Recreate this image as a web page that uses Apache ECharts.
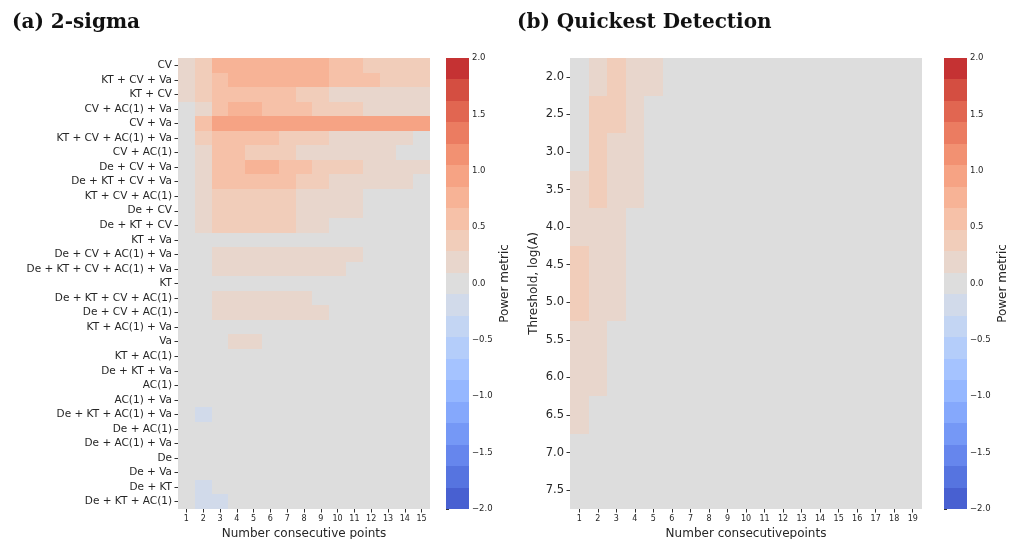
<!DOCTYPE html>
<html>
<head>
<meta charset="utf-8">
<script src="https://cdn.jsdelivr.net/npm/echarts@6/dist/echarts.min.js"></script>
<style>html,body{margin:0;padding:0;background:#fff}#main{width:1010px;height:539px}</style>
</head>
<body>
<div id="main"></div>
<script>
// (a) 2-sigma : rows = indicator combos, cols = number of consecutive points
var leftRows = ['CV', 'KT + CV + Va', 'KT + CV', 'CV + AC(1) + Va', 'CV + Va',
    'KT + CV + AC(1) + Va', 'CV + AC(1)', 'De + CV + Va', 'De + KT + CV + Va',
    'KT + CV + AC(1)', 'De + CV', 'De + KT + CV', 'KT + Va', 'De + CV + AC(1) + Va',
    'De + KT + CV + AC(1) + Va', 'KT', 'De + KT + CV + AC(1)', 'De + CV + AC(1)',
    'KT + AC(1) + Va', 'Va', 'KT + AC(1)', 'De + KT + Va', 'AC(1)', 'AC(1) + Va',
    'De + KT + AC(1) + Va', 'De + AC(1)', 'De + AC(1) + Va', 'De', 'De + Va',
    'De + KT', 'De + KT + AC(1)'];
var leftCols = ['1','2','3','4','5','6','7','8','9','10','11','12','13','14','15'];
var leftValues = [
    [0.2, 0.4, 0.8, 0.8, 0.8, 0.8, 0.8, 0.8, 0.8, 0.6, 0.6, 0.4, 0.4, 0.4, 0.4],
    [0.2, 0.4, 0.6, 0.8, 0.8, 0.8, 0.8, 0.8, 0.8, 0.6, 0.6, 0.6, 0.4, 0.4, 0.4],
    [0.2, 0.4, 0.6, 0.6, 0.6, 0.6, 0.6, 0.4, 0.4, 0.2, 0.2, 0.2, 0.2, 0.2, 0.2],
    [0, 0.2, 0.6, 0.8, 0.8, 0.6, 0.6, 0.6, 0.4, 0.4, 0.4, 0.2, 0.2, 0.2, 0.2],
    [0, 0.6, 0.95, 0.95, 0.95, 0.95, 0.95, 0.95, 0.95, 0.95, 0.95, 0.95, 0.95, 0.95, 0.95],
    [0, 0.4, 0.6, 0.6, 0.6, 0.6, 0.4, 0.4, 0.4, 0.2, 0.2, 0.2, 0.2, 0.2, 0],
    [0, 0.2, 0.6, 0.6, 0.4, 0.4, 0.4, 0.2, 0.2, 0.2, 0.2, 0.2, 0.2, 0, 0],
    [0, 0.2, 0.6, 0.6, 0.8, 0.8, 0.6, 0.6, 0.4, 0.4, 0.4, 0.2, 0.2, 0.2, 0.2],
    [0, 0.2, 0.6, 0.6, 0.6, 0.6, 0.6, 0.4, 0.4, 0.2, 0.2, 0.2, 0.2, 0.2, 0],
    [0, 0.2, 0.4, 0.4, 0.4, 0.4, 0.4, 0.2, 0.2, 0.2, 0.2, 0, 0, 0, 0],
    [0, 0.2, 0.4, 0.4, 0.4, 0.4, 0.4, 0.2, 0.2, 0.2, 0.2, 0, 0, 0, 0],
    [0, 0.2, 0.4, 0.4, 0.4, 0.4, 0.4, 0.2, 0.2, 0, 0, 0, 0, 0, 0],
    [0, 0, 0, 0, 0, 0, 0, 0, 0, 0, 0, 0, 0, 0, 0],
    [0, 0, 0.2, 0.2, 0.2, 0.2, 0.2, 0.2, 0.2, 0.2, 0.2, 0, 0, 0, 0],
    [0, 0, 0.2, 0.2, 0.2, 0.2, 0.2, 0.2, 0.2, 0.2, 0, 0, 0, 0, 0],
    [0, 0, 0, 0, 0, 0, 0, 0, 0, 0, 0, 0, 0, 0, 0],
    [0, 0, 0.2, 0.2, 0.2, 0.2, 0.2, 0.2, 0, 0, 0, 0, 0, 0, 0],
    [0, 0, 0.2, 0.2, 0.2, 0.2, 0.2, 0.2, 0.2, 0, 0, 0, 0, 0, 0],
    [0, 0, 0, 0, 0, 0, 0, 0, 0, 0, 0, 0, 0, 0, 0],
    [0, 0, 0, 0.2, 0.2, 0, 0, 0, 0, 0, 0, 0, 0, 0, 0],
    [0, 0, 0, 0, 0, 0, 0, 0, 0, 0, 0, 0, 0, 0, 0],
    [0, 0, 0, 0, 0, 0, 0, 0, 0, 0, 0, 0, 0, 0, 0],
    [0, 0, 0, 0, 0, 0, 0, 0, 0, 0, 0, 0, 0, 0, 0],
    [0, 0, 0, 0, 0, 0, 0, 0, 0, 0, 0, 0, 0, 0, 0],
    [0, -0.2, 0, 0, 0, 0, 0, 0, 0, 0, 0, 0, 0, 0, 0],
    [0, 0, 0, 0, 0, 0, 0, 0, 0, 0, 0, 0, 0, 0, 0],
    [0, 0, 0, 0, 0, 0, 0, 0, 0, 0, 0, 0, 0, 0, 0],
    [0, 0, 0, 0, 0, 0, 0, 0, 0, 0, 0, 0, 0, 0, 0],
    [0, 0, 0, 0, 0, 0, 0, 0, 0, 0, 0, 0, 0, 0, 0],
    [0, -0.2, 0, 0, 0, 0, 0, 0, 0, 0, 0, 0, 0, 0, 0],
    [0, -0.2, -0.2, 0, 0, 0, 0, 0, 0, 0, 0, 0, 0, 0, 0]
];

// (b) Quickest Detection : rows = threshold log(A), cols = consecutive points
var rightRows = ['2.0','2.5','3.0','3.5','4.0','4.5','5.0','5.5','6.0','6.5','7.0','7.5'];
var rightCols = ['1','2','3','4','5','6','7','8','9','10','11','12','13','14','15','16','17','18','19'];
var rightValues = [
    [0, 0.2, 0.4, 0.2, 0.2, 0, 0, 0, 0, 0, 0, 0, 0, 0, 0, 0, 0, 0, 0],
    [0, 0.4, 0.4, 0.2, 0, 0, 0, 0, 0, 0, 0, 0, 0, 0, 0, 0, 0, 0, 0],
    [0, 0.4, 0.2, 0.2, 0, 0, 0, 0, 0, 0, 0, 0, 0, 0, 0, 0, 0, 0, 0],
    [0.2, 0.4, 0.2, 0.2, 0, 0, 0, 0, 0, 0, 0, 0, 0, 0, 0, 0, 0, 0, 0],
    [0.2, 0.2, 0.2, 0, 0, 0, 0, 0, 0, 0, 0, 0, 0, 0, 0, 0, 0, 0, 0],
    [0.4, 0.2, 0.2, 0, 0, 0, 0, 0, 0, 0, 0, 0, 0, 0, 0, 0, 0, 0, 0],
    [0.4, 0.2, 0.2, 0, 0, 0, 0, 0, 0, 0, 0, 0, 0, 0, 0, 0, 0, 0, 0],
    [0.2, 0.2, 0, 0, 0, 0, 0, 0, 0, 0, 0, 0, 0, 0, 0, 0, 0, 0, 0],
    [0.2, 0.2, 0, 0, 0, 0, 0, 0, 0, 0, 0, 0, 0, 0, 0, 0, 0, 0, 0],
    [0.2, 0, 0, 0, 0, 0, 0, 0, 0, 0, 0, 0, 0, 0, 0, 0, 0, 0, 0],
    [0, 0, 0, 0, 0, 0, 0, 0, 0, 0, 0, 0, 0, 0, 0, 0, 0, 0, 0],
    [0, 0, 0, 0, 0, 0, 0, 0, 0, 0, 0, 0, 0, 0, 0, 0, 0, 0, 0]
];

var nBins = 21;

// coolwarm control points (Moreland)
var cw = [[59,76,192],[68,90,204],[77,104,215],[87,117,225],[98,130,234],[108,142,241],
    [119,154,247],[130,165,251],[141,176,254],[152,185,255],[163,194,255],[174,201,253],
    [184,208,249],[194,213,244],[204,217,238],[213,219,230],[221,221,221],[229,216,209],
    [236,211,197],[241,204,185],[245,196,173],[247,187,160],[247,177,148],[247,166,135],
    [244,154,123],[241,141,111],[236,127,99],[229,112,88],[222,96,77],[213,80,66],
    [203,62,56],[192,40,47],[180,4,38]];
function coolwarm(t) {
    var f = t * (cw.length - 1), i = Math.min(Math.floor(f), cw.length - 2), u = f - i;
    var c = [0, 1, 2].map(function (k) { return Math.round(cw[i][k] + (cw[i + 1][k] - cw[i][k]) * u); });
    return 'rgb(' + c.join(',') + ')';
}

var bins = [], pieces = [];
for (var i = 0; i < nBins; i++) {
    var lo = -2 + i * 4 / nBins, hi = -2 + (i + 1) * 4 / nBins;
    var col = coolwarm((i + 1) / (nBins + 1));
    bins.push([lo, hi, col]);
    pieces.push({gte: lo, lt: hi, color: col});
}
pieces[0].gte = -100; pieces[nBins - 1].lt = 100;

function toCells(values) {
    var out = [];
    values.forEach(function (row, r) {
        row.forEach(function (v, c) { out.push([c, r, v]); });
    });
    return out;
}

// rect snapped to whole pixels so neighbouring cells share edges
function snapRect(x0, y0, x1, y1, color) {
    var l = Math.round(Math.min(x0, x1)), r = Math.round(Math.max(x0, x1));
    var t = Math.round(Math.min(y0, y1)), b = Math.round(Math.max(y0, y1));
    return {type: 'rect', shape: {x: l, y: t, width: r - l, height: b - t}, style: {fill: color}};
}

// one heatmap cell, coloured by the visualMap
function renderCell(params, api) {
    var p = api.coord([api.value(0), api.value(1)]);
    var s = api.size([1, 1]);
    var w = Math.abs(s[0]) / 2, h = Math.abs(s[1]) / 2;
    return snapRect(p[0] - w, p[1] - h, p[0] + w, p[1] + h, api.visual('color'));
}

// one colour band of the colorbar
function renderBin(params, api) {
    var p1 = api.coord([0, api.value(1)]);
    var p2 = api.coord([1, api.value(0)]);
    return snapRect(p1[0], p1[1], p2[0], p2[1], bins[params.dataIndex][2]);
}

var txt = '#262626';
var tickStyle = {show: true, length: 3.5, lineStyle: {color: '#333', width: 1}};

function catX(grid, cols, name) {
    return {
        type: 'category', gridIndex: grid, data: cols,
        axisLine: {show: false}, axisTick: Object.assign({alignWithLabel: true}, tickStyle),
        axisLabel: {fontSize: 8, color: txt, margin: 6},
        splitArea: {show: false}, splitLine: {show: false},
        name: name, nameLocation: 'middle', nameGap: 17,
        nameTextStyle: {fontSize: 12, color: txt}
    };
}
function catY(grid, rows, fs, name) {
    return {
        type: 'category', gridIndex: grid, data: rows, inverse: true,
        axisLine: {show: false}, axisTick: Object.assign({alignWithLabel: true}, tickStyle),
        axisLabel: {fontSize: fs, color: txt, margin: 6, interval: 0},
        splitArea: {show: false}, splitLine: {show: false},
        name: name, nameLocation: 'middle', nameGap: 30,
        nameTextStyle: {fontSize: 12, color: txt}
    };
}
function cbarX(grid) {
    return {type: 'value', gridIndex: grid, min: 0, max: 1, show: false};
}
function cbarY(grid) {
    return {
        type: 'value', gridIndex: grid, min: -2, max: 2, interval: 0.5, position: 'right',
        axisLine: {show: false}, axisTick: {show: true, length: 3, lineStyle: {color: '#333'}},
        splitLine: {show: false},
        axisLabel: {fontSize: 8.5, color: txt, margin: 3, formatter: function (v) {
            return (v < 0 ? '\u2212' : '') + Math.abs(v).toFixed(1);
        }},
        name: 'Power metric', nameLocation: 'middle', nameGap: 30,
        nameTextStyle: {fontSize: 12, color: txt}
    };
}

var chart = echarts.init(document.getElementById('main'));
var option = {
    animation: false,
    textStyle: {fontFamily: 'DejaVu Sans'},
    title: [
        {text: '(a) 2-sigma', left: 7, top: 8,
         textStyle: {fontFamily: 'DejaVu Serif', fontWeight: 'bold', fontSize: 20, color: '#111'}},
        {text: '(b) Quickest Detection', left: 512, top: 8,
         textStyle: {fontFamily: 'DejaVu Serif', fontWeight: 'bold', fontSize: 20, color: '#111'}}
    ],
    grid: [
        {left: 178, top: 58, width: 252, height: 451, outerBoundsMode: 'none', containLabel: false},
        {left: 446, top: 58, width: 23, height: 451, outerBoundsMode: 'none', containLabel: false},
        {left: 570, top: 58, width: 352, height: 451, outerBoundsMode: 'none', containLabel: false},
        {left: 944, top: 58, width: 23, height: 451, outerBoundsMode: 'none', containLabel: false}
    ],
    xAxis: [
        catX(0, leftCols, 'Number consecutive points'),
        cbarX(1),
        catX(2, rightCols, 'Number consecutivepoints'),
        cbarX(3)
    ],
    yAxis: [
        catY(0, leftRows, 10.5, ''),
        cbarY(1),
        catY(2, rightRows, 11.5, 'Threshold, log(A)'),
        cbarY(3)
    ],
    visualMap: {
        type: 'piecewise', show: false, dimension: 2, seriesIndex: [0, 2], pieces: pieces
    },
    series: [
        {type: 'custom', xAxisIndex: 0, yAxisIndex: 0, renderItem: renderCell,
         data: toCells(leftValues), encode: {x: 0, y: 1}},
        {type: 'custom', xAxisIndex: 1, yAxisIndex: 1, renderItem: renderBin,
         data: bins.map(function (b) { return [b[0], b[1]]; }), encode: {y: [0, 1]}},
        {type: 'custom', xAxisIndex: 2, yAxisIndex: 2, renderItem: renderCell,
         data: toCells(rightValues), encode: {x: 0, y: 1}},
        {type: 'custom', xAxisIndex: 3, yAxisIndex: 3, renderItem: renderBin,
         data: bins.map(function (b) { return [b[0], b[1]]; }), encode: {y: [0, 1]}}
    ]
};
chart.setOption(option);
</script>
</body>
</html>
